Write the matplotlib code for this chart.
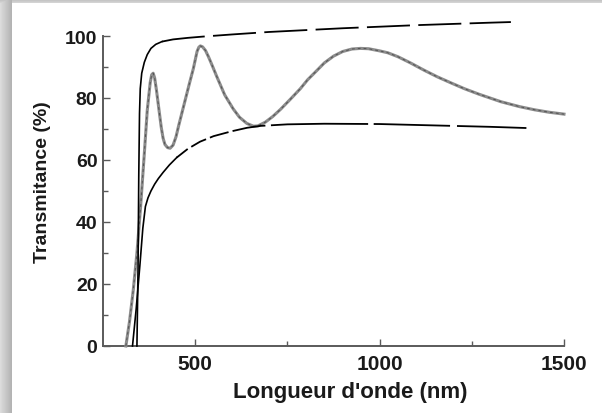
import numpy as np
import matplotlib
matplotlib.use("Agg")
import matplotlib.pyplot as plt
from matplotlib.ticker import MultipleLocator, FixedLocator

plt.rcParams["font.family"] = ["Liberation Sans", "DejaVu Sans"]
plt.rcParams["lines.scale_dashes"] = False

# Transmission spectrum of the film (%), wavelength in nm
wl_film = [312, 322, 332, 342, 352, 362, 370, 378, 382, 386, 390, 395, 402,
           408, 413, 418, 425, 432, 440, 448, 455, 470, 485, 495, 505, 510,
           514, 520, 528, 536, 545, 560, 580, 603, 620, 640, 658, 670, 690,
           710, 731, 758, 785, 805, 826, 850, 875, 900, 925, 948, 970, 1000,
           1022, 1050, 1084, 1120, 1157, 1193, 1230, 1270, 1329, 1380, 1420,
           1460, 1500]
t_film = [0, 8, 18, 30, 45, 62, 76, 85, 87.5, 88, 86.5, 82.5, 76,
          70.5, 67, 65, 64, 63.8, 64.8, 67.5, 71, 78, 85, 89.5, 95, 96.4,
          96.8, 96.5, 95.3, 93.3, 90.8, 86.5, 81, 76.5, 73.8, 71.8, 70.9, 71, 72.2,
          74, 76.3, 79.6, 83, 85.9, 88.4, 91.3, 93.5, 95, 95.8, 96, 95.9, 95.2,
          94.6, 93.3, 91.3, 89, 86.8, 84.9, 83, 81.2, 78.8, 77.2, 76.2,
          75.4, 74.8]

# Upper envelope T_M
wl_upper = [342, 345, 347, 349, 351, 355, 362, 370, 380, 393, 410, 440, 480,
            520, 600, 700, 800, 900, 1000, 1100, 1200, 1300, 1356]
t_upper = [0, 25, 55, 75, 83, 88, 91.5, 94, 96, 97.3, 98.2, 98.9, 99.4,
           99.8, 100.5, 101.3, 101.9, 102.5, 103, 103.5, 103.9, 104.3, 104.5]

# Lower envelope T_m
wl_lower = [330, 340, 350, 358, 365, 372, 380, 390, 400, 413, 430, 450, 480,
            513, 550, 600, 641, 677, 750, 850, 1000, 1100, 1200, 1300, 1402]
t_lower = [0, 12, 26, 38, 45, 47.8, 50, 52.2, 54, 56, 58.4, 60.8, 63.6,
           65.9, 67.7, 69.3, 70.4, 71, 71.5, 71.7, 71.6, 71.3, 71, 70.7, 70.3]

x_ticks = [500, 1000, 1500]
x_minor = [750, 1250]
y_ticks = [0, 20, 40, 60, 80, 100]

W, H = 602, 414
fig = plt.figure(figsize=(W / 100, H / 100), dpi=100)
fig.patch.set_facecolor("white")

# soft card shadow along the left and top edges
bg = fig.add_axes([0, 0, 1, 1], zorder=-5)
shade = np.ones((H, W))
xs = np.arange(W)
left = np.where(xs < 12, 0.86 - 0.16 * (xs / 11.0), 1.0)
shade = np.minimum(shade, left[None, :])
ys = np.arange(H)
top = np.where(ys < 4, 0.74 + 0.03 * ys, 1.0)
shade = np.minimum(shade, top[:, None])
bg.imshow(shade, cmap="gray", vmin=0, vmax=1, extent=[0, W, H, 0],
          aspect="auto", interpolation="bilinear")
bg.set_xlim(0, W)
bg.set_ylim(H, 0)
bg.axis("off")

ax = fig.add_axes([103 / W, 1 - 347 / H, 461 / W, 310 / H])
ax.set_facecolor("none")
ax.set_xlim(250, 1500)
ax.set_ylim(0, 100)

# measured spectrum: grey trace with a fine dark dash on top
ax.plot(wl_film, t_film, color="#8c8c8c", lw=2.2, clip_on=False,
        solid_joinstyle="round", zorder=3)
ax.plot(wl_film, t_film, color="#3a3a3a", lw=0.7, ls=(0, (2.0, 2.2)),
        alpha=0.7, clip_on=False, zorder=4)

# envelopes: solid along the absorption edge, dashed beyond
solid_end = 420
wu = np.array(wl_upper); tu = np.array(t_upper)
m = wu <= solid_end
ax.plot(wu[m], tu[m], color="black", lw=1.2, clip_on=False, zorder=5)
k = np.searchsorted(wu, solid_end) - 1
ax.plot(wu[k:], tu[k:], color="black", lw=1.3, ls=(0, (31, 6)),
        clip_on=False, zorder=5)

solid_end_low = 460
wlw = np.array(wl_lower); tlw = np.array(t_lower)
m = wlw <= solid_end_low
ax.plot(wlw[m], tlw[m], color="black", lw=1.2, clip_on=False, zorder=5)
k = np.searchsorted(wlw, solid_end_low) - 1
ax.plot(wlw[k:], tlw[k:], color="black", lw=1.3,
        ls=(0, (10, 3, 12, 3, 14, 3, 24, 4, 70, 4, 55, 5, 50, 4)),
        clip_on=False, zorder=5)

for s in ("top", "right"):
    ax.spines[s].set_visible(False)
for s in ("left", "bottom"):
    ax.spines[s].set_color("#5a5a5a")
    ax.spines[s].set_linewidth(1.4)

ax.xaxis.set_major_locator(FixedLocator(x_ticks))
ax.xaxis.set_minor_locator(FixedLocator(x_minor))
ax.yaxis.set_major_locator(FixedLocator(y_ticks))
ax.yaxis.set_minor_locator(MultipleLocator(10))
ax.tick_params(which="both", direction="in", color="#5a5a5a", width=1.0)
ax.tick_params(which="major", length=5)
ax.tick_params(which="minor", length=3.5)
ax.tick_params(axis="x", which="major", pad=6, labelsize=15)
ax.tick_params(axis="y", which="major", pad=4, labelsize=14)
for lab in ax.get_xticklabels() + ax.get_yticklabels():
    lab.set_fontweight("bold")
    lab.set_color("#1a1a1a")

ax.set_xlabel("Longueur d'onde (nm)", fontsize=16, fontweight="bold",
              color="#1a1a1a")
ax.set_ylabel("Transmitance (%)", fontsize=14, fontweight="bold",
              color="#1a1a1a")
ax.xaxis.set_label_coords(0.536, -0.112)
ax.yaxis.set_label_coords(-0.112, 0.532)

fig.savefig("out.png", dpi=100)
